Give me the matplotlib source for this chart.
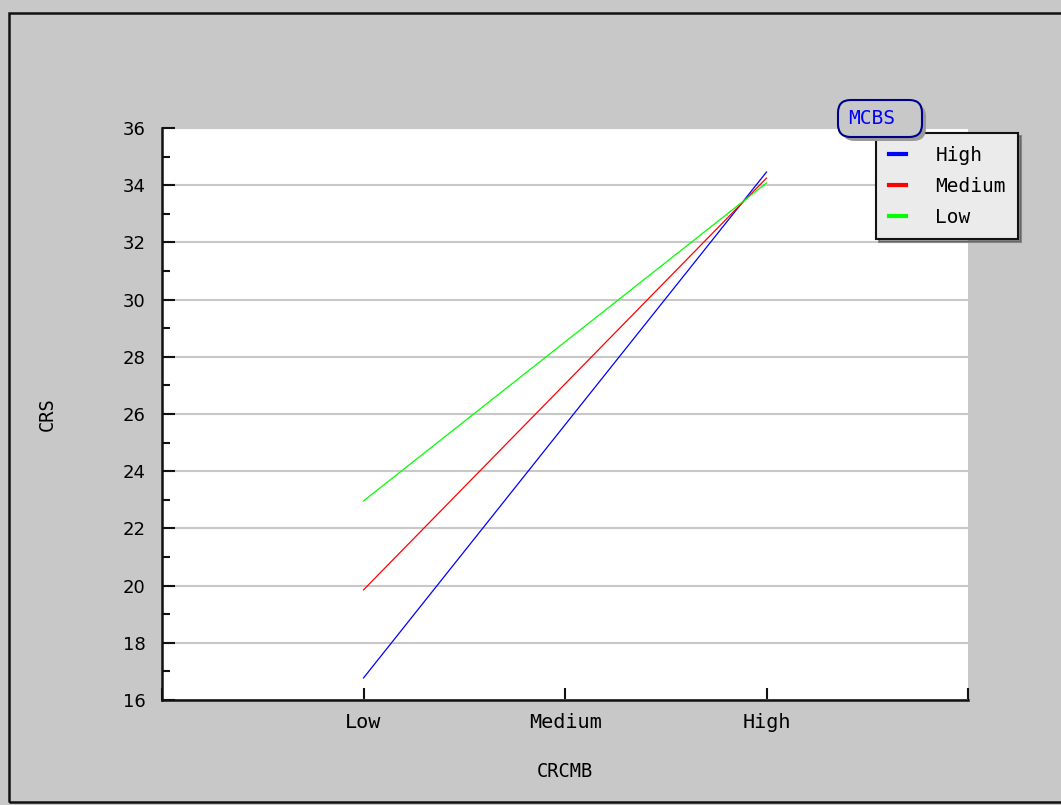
import matplotlib.pyplot as plt
from matplotlib.patches import Rectangle, FancyBboxPatch
from matplotlib.lines import Line2D

# Datos
categorias = ["Low", "Medium", "High"]
serie_nombres = ["High", "Medium", "Low"]
valores_high = [16.77, 25.62, 34.46]
valores_medium = [19.85, 27.05, 34.25]
valores_low = [22.96, 28.52, 34.08]
colores = ["#0000ff", "#ff0000", "#00ff00"]
y_ticks = list(range(16, 37, 2))

fondo = "#c8c8c8"
mono = "DejaVu Sans Mono"
W, H = 1061, 805

fig = plt.figure(figsize=(10.61, 8.05), dpi=100, facecolor=fondo)
ax = fig.add_axes([162 / W, 105 / H, 806 / W, 572 / H])
ax.set_facecolor("white")

# Marco exterior
fig.patches.append(Rectangle((9 / W, 3 / H), 1.2, (802 - 13) / H,
                             transform=fig.transFigure, fill=False,
                             edgecolor="#111111", linewidth=1.8, zorder=0))

x = list(range(len(categorias)))
for nombre, vals, c in zip(serie_nombres, [valores_high, valores_medium, valores_low], colores):
    ax.plot(x, vals, color=c, linewidth=0.9, zorder=3)

ax.set_xlim(-1, 3)
ax.set_ylim(16, 36)
ax.set_xticks([-1] + x + [3])
ax.set_xticklabels([""] + categorias + [""], fontfamily=mono, fontsize=14.5)
ax.set_yticks(y_ticks)
ax.set_yticks(range(17, 36, 2), minor=True)
ax.set_yticklabels([str(v) for v in y_ticks], fontsize=13)
ax.tick_params(axis="both", which="major", direction="in", length=9, width=1.5, color="#111111", pad=12)
ax.tick_params(axis="y", which="minor", direction="in", length=6, width=1.5, color="#111111")
ax.tick_params(axis="x", pad=9)

ax.grid(axis="y", which="major", color="#c8c8c8", linewidth=1.5, zorder=0)
for s in ["top", "right"]:
    ax.spines[s].set_visible(False)
for s in ["left", "bottom"]:
    ax.spines[s].set_linewidth(1.8)
    ax.spines[s].set_color("#111111")

ax.set_xlabel("CRCMB", fontfamily=mono, fontsize=13.5, labelpad=22)
ax.set_ylabel("CRS", fontfamily=mono, fontsize=13.5, labelpad=47)

# Leyenda
handles = [Line2D([0], [0], color=c, linewidth=3) for c in colores]
leg = fig.legend(handles, serie_nombres, loc="upper left",
                 bbox_to_anchor=(876 / W, (H - 133) / H),
                 prop={"family": mono, "size": 14}, frameon=True, fancybox=False,
                 shadow=True, facecolor="#ebebeb", edgecolor="#111111",
                 handlelength=0.9, handletextpad=1.5, borderpad=0.65,
                 labelspacing=0.62, borderaxespad=0)
leg.get_frame().set_linewidth(1.5)
leg.get_frame().set_alpha(1)
leg.set_zorder(4)

# Titulo de la leyenda en caja redondeada, por encima de la leyenda
for dx, dy, fc, ec in [(4, -4, "#9a9a9a", "none"), (0, 0, fondo, "#00008b")]:
    caja = FancyBboxPatch(((838 + dx) / W, (H - 137 + dy) / H), 84 / W, 37 / H,
                          boxstyle="round,pad=0,rounding_size=0.012",
                          transform=fig.transFigure, facecolor=fc, edgecolor=ec,
                          linewidth=1.5, mutation_aspect=W / H, zorder=6)
    fig.patches.append(caja)
fig.text(848 / W, (H - 118) / H, "MCBS", color="#0000ff", fontfamily=mono,
         fontsize=14, ha="left", va="center", zorder=7)

fig.savefig("out.png", dpi=100, facecolor=fondo)
